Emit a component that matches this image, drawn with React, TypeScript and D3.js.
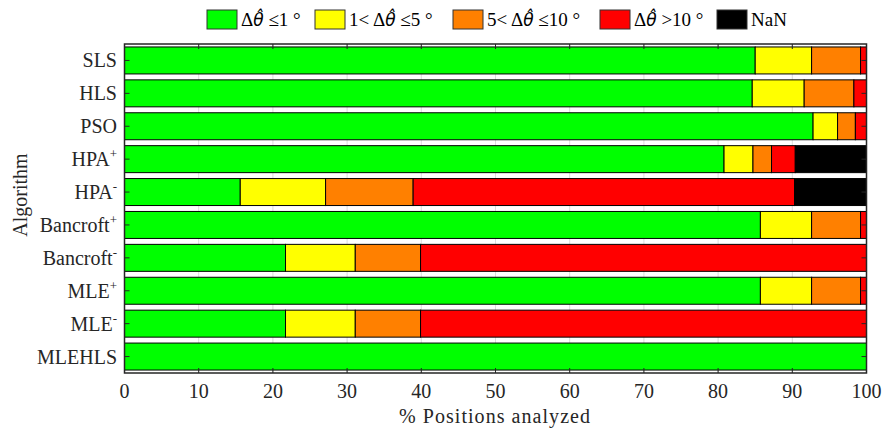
import React from "react";
import * as d3 from "d3";

const categories = ["SLS", "HLS", "PSO", "HPA+", "HPA-", "Bancroft+", "Bancroft-", "MLE+", "MLE-", "MLEHLS"];
const seriesNames = ["le1", "1to5", "5to10", "gt10", "nan"];
const green = [85.0, 84.6, 92.8, 80.8, 15.6, 85.7, 21.7, 85.7, 21.7, 100];
const yellow = [7.6, 7.0, 3.3, 3.9, 11.5, 6.9, 9.4, 6.9, 9.4, 0];
const orange = [6.6, 6.7, 2.4, 2.5, 11.8, 6.6, 8.8, 6.6, 8.8, 0];
const red = [0.8, 1.7, 1.5, 3.2, 51.4, 0.8, 60.1, 0.8, 60.1, 0];
const nan = [0, 0, 0, 9.6, 9.7, 0, 0, 0, 0, 0];
const colors = ["#00ff00", "#ffff00", "#ff8000", "#ff0000", "#000000"];
const xTicks = [0, 10, 20, 30, 40, 50, 60, 70, 80, 90, 100];

const W = 885, H = 435;
const left = 124.5, right = 866.5, top = 44, bottom = 373;
const FONT = '"Liberation Serif"';
const ts: React.CSSProperties = { fontFamily: FONT };
const hatFont: React.CSSProperties = { fontFamily: '"DejaVu Sans"' };

function CatLabel({ name }: { name: string }) {
  const m = name.match(/^(.*?)([+-])$/);
  if (!m) return <>{name}</>;
  return (
    <>
      {m[1]}
      <tspan fontSize={13} dy={-8}>{m[2]}</tspan>
    </>
  );
}

function Theta({ pre, post }: { pre: string; post: string }) {
  return (
    <>
      <tspan>{pre}Δ</tspan>
      <tspan fontStyle="italic" fontSize={17} style={hatFont}>θ̂</tspan>
      <tspan>{post}</tspan>
    </>
  );
}

export default function App() {
  const x = d3.scaleLinear().domain([0, 100]).range([left, right]);
  const y = d3.scaleBand<string>().domain(categories).range([top, bottom]).paddingInner(0.18).paddingOuter(0.09);
  const data = categories.map((c, i) => ({ cat: c, le1: green[i], "1to5": yellow[i], "5to10": orange[i], gt10: red[i], nan: nan[i] }));
  const stack = d3.stack<any>().keys(seriesNames)(data);

  const legendItems = [
    { x: 207, label: <Theta pre="" post=" ≤1 °" /> },
    { x: 315, label: <Theta pre="1< " post=" ≤5 °" /> },
    { x: 453, label: <Theta pre="5< " post=" ≤10 °" /> },
    { x: 600, label: <Theta pre="" post=" >10 °" /> },
    { x: 717, label: <>NaN</> },
  ];

  return (
    <svg width={W} height={H} style={{ position: "absolute", left: 0, top: 0, background: "#fff", fontFamily: FONT }}>
      <rect x={0} y={0} width={W} height={H} fill="#fff" />
      {xTicks.map((t) => (
        <line key={"g" + t} x1={x(t)} x2={x(t)} y1={top} y2={bottom} stroke="#dcdcdc" strokeWidth={1} />
      ))}
      {categories.map((c) => (
        <line key={"gy" + c} x1={left} x2={right} y1={y(c)! + y.bandwidth() / 2} y2={y(c)! + y.bandwidth() / 2} stroke="#dcdcdc" strokeWidth={1} />
      ))}
      {stack.map((s, si) => (
        <g key={s.key}>
          {s.map((d, i) =>
            d[1] - d[0] > 0 ? (
              <rect
                key={i}
                x={x(d[0])}
                y={y(categories[i])}
                width={x(d[1]) - x(d[0])}
                height={y.bandwidth()}
                fill={colors[si]}
                stroke="#000"
                strokeWidth={1}
              />
            ) : null
          )}
        </g>
      ))}
      <rect x={left} y={top} width={right - left} height={bottom - top} fill="none" stroke="#262626" strokeWidth={1.5} />
      {xTicks.map((t) => (
        <g key={"t" + t}>
          <line x1={x(t)} x2={x(t)} y1={bottom} y2={bottom - 5} stroke="#262626" strokeWidth={1} />
          <line x1={x(t)} x2={x(t)} y1={top} y2={top + 5} stroke="#262626" strokeWidth={1} />
          <text x={x(t)} y={398} textAnchor="middle" fontSize={20} fill="#262626" style={ts}>{t}</text>
        </g>
      ))}
      {categories.map((c) => {
        const cy = y(c)! + y.bandwidth() / 2;
        return (
          <g key={"yl" + c}>
            <line x1={left} x2={left + 5} y1={cy} y2={cy} stroke="#262626" strokeWidth={1} />
            <line x1={right} x2={right - 5} y1={cy} y2={cy} stroke="#262626" strokeWidth={1} />
            <text x={117} y={cy + 7} textAnchor="end" fontSize={20} fill="#262626" style={ts}>
              <CatLabel name={c} />
            </text>
          </g>
        );
      })}
      <text x={399} y={423} fontSize={20} fill="#262626" style={ts} textLength={191} lengthAdjust="spacing">% Positions analyzed</text>
      <text transform={`translate(27, 195) rotate(-90)`} textAnchor="middle" fontSize={20} fill="#262626" style={ts}>Algorithm</text>
      {legendItems.map((it, i) => (
        <g key={"lg" + i}>
          <rect x={it.x} y={10} width={30} height={19} fill={colors[i]} stroke="#333" strokeWidth={1} />
          <text x={it.x + 34} y={26} fontSize={19} fill="#000" style={ts}>{it.label}</text>
        </g>
      ))}
    </svg>
  );
}
